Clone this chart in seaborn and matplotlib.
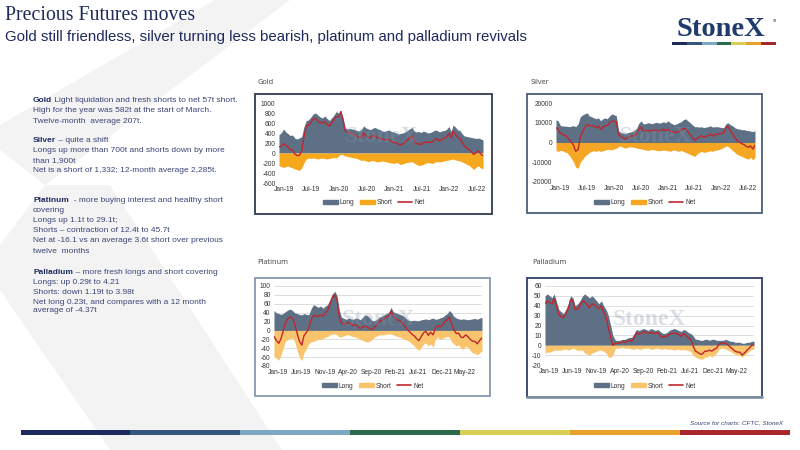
import pandas as pd
import seaborn as sns
import matplotlib.pyplot as plt
import matplotlib.transforms as mtransforms
from matplotlib.patches import Rectangle, Polygon, Patch
from matplotlib.lines import Line2D

# semi-monthly positions, Jan-19 .. mid Sep-22
dates = pd.date_range('2019-01-01', '2022-09-15', freq='SMS')

gold_long = [370, 400, 480, 420, 390, 350, 360, 300, 280, 300, 330, 520, 650, 660, 720, 780, 800, 760, 720, 700, 740, 690, 650, 700,
             760, 830, 790, 850, 700, 500, 480, 490, 480, 470, 450, 440, 470, 540, 500, 480, 470, 500, 510, 480, 470, 440, 430, 450,
             460, 430, 420, 400, 380, 390, 400, 420, 450, 480, 510, 440, 420, 430, 410, 440, 420, 400, 410, 430, 460, 450, 420, 440,
             450, 470, 530, 430, 560, 520, 460, 450, 380, 340, 330, 320, 310, 300, 290, 300, 280, 260]
gold_short = [-250, -270, -290, -270, -260, -280, -300, -320, -330, -350, -300, -200, -120, -100, -110, -100, -110, -120, -110, -100, -110, -120, -110, -100,
              -90, -100, -60, -20, -40, -60, -70, -80, -90, -100, -110, -130, -150, -140, -160, -170, -160, -150, -170, -180, -170, -160, -170, -180,
              -190, -200, -210, -190, -200, -230, -220, -200, -190, -180, -170, -200, -230, -250, -240, -230, -200, -190, -200, -210, -180, -170, -180, -170,
              -160, -150, -140, -130, -120, -140, -150, -160, -180, -200, -230, -250, -290, -330, -280, -260, -300, -317]

silver_long = [11500, 11000, 8500, 8400, 8300, 8200, 8000, 8300, 8500, 8000, 9500, 13000, 14000, 14500, 15000, 13500, 13000, 12500, 12000, 12500, 11000, 12000, 12500, 12000,
               13500, 14500, 14000, 13500, 6000, 5000, 4800, 4500, 5000, 5200, 5500, 6000, 7000, 9500, 11000, 9500, 9500, 10000, 9800, 9500, 10000, 10200, 9800, 10000,
               10500, 10000, 11000, 10000, 9500, 9000, 9500, 10000, 10500, 11500, 12000, 11000, 10000, 9000, 8000, 8000, 7800, 8000, 7500, 7800, 8000, 8500, 7800, 8000,
               8000, 7800, 7600, 7500, 9500, 10000, 9000, 8500, 7500, 7000, 6800, 6500, 6500, 6200, 6000, 5800, 5500, 6000]
silver_short = [-4000, -4500, -4000, -4200, -4800, -5000, -6500, -8000, -10000, -12500, -13000, -10000, -8500, -7000, -6000, -5000, -4500, -4200, -4500, -4000, -4500, -4200, -3800, -3500,
                -3500, -3800, -3200, -3000, -2000, -1800, -2500, -2800, -2500, -2200, -2200, -2500, -2800, -3000, -3200, -3500, -3800, -4000, -3800, -3500, -3800, -4000, -4200, -4000,
                -3800, -4000, -4200, -4500, -4000, -3800, -4200, -4500, -4000, -4500, -5000, -5500, -6000, -6500, -7000, -6000, -5000, -4500, -5000, -4800, -4500, -4200, -4500, -4000,
                -3800, -3500, -3000, -2500, -1800, -2000, -3000, -4000, -5000, -6000, -6500, -7000, -7500, -8000, -8500, -7500, -8800, -7332]

plat_long = [45, 40, 38, 36, 38, 42, 46, 48, 45, 40, 38, 36, 35, 38, 36, 35, 50, 58, 55, 52, 55, 50, 55, 58,
             70, 82, 88, 78, 45, 30, 27, 25, 28, 26, 25, 28, 27, 24, 30, 35, 33, 28, 22, 22, 25, 30, 32, 35,
             38, 40, 52, 42, 40, 38, 36, 34, 30, 25, 22, 22, 23, 22, 22, 24, 25, 26, 24, 26, 28, 25, 26, 28,
             30, 34, 38, 45, 40, 32, 28, 26, 25, 26, 25, 24, 25, 26, 27, 25, 28, 29.1]
plat_short = [-58, -62, -67, -55, -40, -25, -20, -18, -17, -25, -45, -60, -68, -50, -40, -30, -25, -25, -22, -20, -20, -18, -15, -14,
              -10, -8, -8, -10, -15, -14, -12, -10, -10, -12, -14, -15, -18, -20, -22, -25, -26, -24, -20, -15, -12, -10, -10, -10,
              -8, -8, -8, -10, -12, -14, -15, -18, -20, -22, -25, -30, -35, -40, -45, -38, -30, -28, -35, -30, -38, -20, -15, -20,
              -18, -15, -14, -15, -25, -30, -35, -32, -40, -42, -35, -38, -45, -50, -52, -55, -50, -45.7]

pall_long = [50, 52, 50, 48, 52, 45, 36, 34, 32, 36, 42, 50, 48, 40, 42, 45, 50, 52, 50, 48, 50, 48, 45, 42,
             45, 40, 36, 30, 20, 10, 5, 5, 5, 6, 6, 7, 8, 8, 12, 16, 15, 16, 17, 16, 15, 17, 16, 15,
             16, 14, 12, 12, 13, 15, 16, 17, 16, 15, 14, 16, 15, 13, 12, 10, 6, 6, 5, 5, 6, 6, 5, 6,
             6, 5, 5, 5, 5, 6, 5, 4, 4, 3, 3, 3, 2, 2, 3, 3, 4, 4.21]
pall_short = [-8, -7, -7, -6, -5, -5, -5, -5, -4, -4, -5, -4, -3, -4, -5, -5, -5, -8, -9, -10, -8, -7, -6, -5,
              -5, -6, -8, -12, -12, -10, -3, -3, -3, -2, -3, -3, -3, -4, -4, -3, -4, -4, -3, -3, -3, -4, -4, -3,
              -3, -4, -4, -3, -4, -4, -4, -5, -4, -4, -5, -4, -5, -5, -6, -10, -12, -13, -14, -14, -12, -12, -10, -12,
              -10, -8, -4, -3, -3, -4, -5, -6, -8, -9, -10, -10, -12, -10, -8, -6, -4, -3.98]

six_month_ticks = ['2019-01-01', '2019-07-01', '2020-01-01', '2020-07-01', '2021-01-01', '2021-07-01', '2022-01-01', '2022-07-01']
six_month_labels = ['Jan-19', 'Jul-19', 'Jan-20', 'Jul-20', 'Jan-21', 'Jul-21', 'Jan-22', 'Jul-22']
five_month_ticks = ['2019-01-01', '2019-06-01', '2019-11-01', '2020-04-01', '2020-09-01', '2021-02-01', '2021-07-01', '2021-12-01', '2022-05-01']
five_month_labels = ['Jan-19', 'Jun-19', 'Nov-19', 'Apr-20', 'Sep-20', 'Feb-21', 'Jul-21', 'Dec-21', 'May-22']

NAVY = '#1f2a5c'
TEXT = '#3b4577'
LONG_C = '#5d7086'
NET_C = '#c0272d'

sns.set_theme(style='white')
plt.rcParams['font.family'] = ['Liberation Sans', 'DejaVu Sans']
plt.rcParams['axes.unicode_minus'] = False

fig = plt.figure(figsize=(8, 4.5), dpi=100)


def fx(x):
    return x / 800


def fy(y):
    return 1 - y / 450


# faint background chevron
bg = fig.add_axes([0, 0, 1, 1], zorder=-10)
bg.set_xlim(0, 800)
bg.set_ylim(450, 0)
bg.axis('off')
bg.add_patch(Polygon([(215, 0), (290, 0), (45, 185), (0, 150), (0, 125)], closed=True, color='#f3f3f3', lw=0))
bg.add_patch(Polygon([(45, 185), (110, 185), (282, 450), (110, 450), (0, 290), (0, 245)], closed=True, color='#f3f3f3', lw=0))

# header
fig.text(fx(5), fy(15), 'Precious Futures moves', family='Liberation Serif', fontsize=14.3, color=NAVY, va='center')
fig.text(fx(5), fy(37), 'Gold still friendless, silver turning less bearish, platinum and palladium revivals',
         fontsize=10.8, color=NAVY, va='center')
fig.text(fx(721), fy(29), 'StoneX', family='Liberation Serif', fontsize=20.5, weight='bold', color='#1f3a6b',
         ha='center', va='center')
fig.text(fx(773), fy(21), 'TM', fontsize=2, color='#1f3a6b', va='center')

bar_cols = ['#1f2a5c', '#35577f', '#7ea7c4', '#2b6a4a', '#d9cf55', '#e9a22e', '#a8282d']
for i, c in enumerate(bar_cols):
    w = 104 / 7
    fig.patches.append(Rectangle((fx(672 + i * w), fy(45)), w / 800, 3 / 450, transform=fig.transFigure,
                                 color=c, lw=0, zorder=2))
    w2 = (790 - 20.5) / 7
    fig.patches.append(Rectangle((fx(20.5 + i * w2), fy(435)), w2 / 800, 5 / 450, transform=fig.transFigure,
                                 color=c, lw=0, zorder=2))

fig.text(fx(783), fy(423), 'Source for charts: CFTC, StoneX', fontsize=4.6, style='italic', color=TEXT,
         ha='right', va='center')

# commentary on the left
renderer = fig.canvas.get_renderer()
notes = [
    (101, 'Gold', ' Light liquidation and fresh shorts to net 57t short.'),
    (111, '', 'High for the year was 582t at the start of March.'),
    (121, '', 'Twelve-month  average 207t.'),
    (141, 'Silver', ' \u2013 quite a shift'),
    (151, '', 'Longs up more than 700t and shorts down by more'),
    (161, '', 'than 1,900t'),
    (171, '', 'Net is a short of 1,332; 12-month average 2,285t.'),
    (201, 'Platinum', '  - more buying interest and healthy short'),
    (211, '', 'covering'),
    (221, '', 'Longs up 1.1t to 29.1t;'),
    (231, '', 'Shorts \u2013 contraction of 12.4t to 45.7t'),
    (241, '', 'Net at -16.1 vs an average 3.6t short over previous'),
    (251, '', 'twelve  months'),
    (272, 'Palladium', ' \u2013 more fresh longs and short covering'),
    (282, '', 'Longs: up 0.29t to 4.21'),
    (292, '', 'Shorts: down 1.19t to 3.98t'),
    (302, '', 'Net long 0.23t, and compares with a 12 month'),
    (311, '', 'average of -4.37t'),
]
for y, bold, rest in notes:
    x = 33
    if bold:
        t = fig.text(fx(x), fy(y), bold, fontsize=6.0, weight='bold', color=NAVY, va='center')
        x += t.get_window_extent(renderer).width
    fig.text(fx(x), fy(y), rest, fontsize=6.0, color=TEXT, va='center')

charts = [
    dict(name='Gold', long=gold_long, short=gold_short, short_c='#f5a81c', box=(255, 94, 492, 214),
         plot=(279, 103, 483, 183), ylim=(-600, 1000), step=200, ticks=six_month_ticks, labels=six_month_labels,
         grid=False, edge='#2f3d4f', bottom=None, title=(258, 82), legend=(374, 203), shift=5),
    dict(name='Silver', long=silver_long, short=silver_short, short_c='#f5a623', box=(527, 94, 762, 213),
         plot=(556, 103, 755, 182), ylim=(-20000, 20000), step=10000, ticks=six_month_ticks, labels=six_month_labels,
         grid=False, edge='#4a5f7a', bottom=None, title=(531, 82), legend=(645, 203), shift=4),
    dict(name='Platinum', long=plat_long, short=plat_short, short_c='#f9c46b', box=(255, 278, 490, 396),
         plot=(274, 286, 482, 366), ylim=(-80, 100), step=20, ticks=five_month_ticks, labels=five_month_labels,
         grid=True, edge='#8399b0', bottom=None, title=(257, 262), legend=(373, 386), shift=4),
    dict(name='Palladium', long=pall_long, short=pall_short, short_c='#f9c46b', box=(527, 278, 762, 397),
         plot=(545, 286, 754, 365), ylim=(-20, 60), step=10, ticks=five_month_ticks, labels=five_month_labels,
         grid=True, edge='#2f4063', bottom='#8090a6', title=(532, 262), legend=(645, 386), shift=4),
]

for ch in charts:
    df = pd.DataFrame({'date': dates, 'Long': ch['long'], 'Short': ch['short']})
    df['Net'] = df['Long'] + df['Short']

    bx0, by0, bx1, by1 = ch['box']
    fig.patches.append(Rectangle((fx(bx0), fy(by1)), (bx1 - bx0) / 800, (by1 - by0) / 450,
                                 transform=fig.transFigure, facecolor='white', edgecolor=ch['edge'],
                                 lw=1.3, zorder=-1))
    if ch['bottom']:
        fig.lines.append(Line2D([fx(bx0), fx(bx1)], [fy(by1), fy(by1)], transform=fig.transFigure,
                                color=ch['bottom'], lw=2.0, zorder=-0.5))
    fig.text(fx(ch['title'][0]), fy(ch['title'][1]), ch['name'], family='Open Sans', fontsize=5.3,
             color='#404040', va='center')

    px0, py0, px1, py1 = ch['plot']
    ax = fig.add_axes([fx(px0), fy(py1), (px1 - px0) / 800, (py1 - py0) / 450])
    ax.set_facecolor('none')
    ax.fill_between(df['date'], 0, df['Long'], color=LONG_C, lw=0, zorder=2)
    ax.fill_between(df['date'], 0, df['Short'], color=ch['short_c'], lw=0, zorder=2)
    sns.lineplot(data=df, x='date', y='Net', ax=ax, color=NET_C, lw=1.0, zorder=3)

    ax.text(0.5, 0.58, 'StoneX', transform=ax.transAxes, family='Liberation Serif', fontsize=17,
            weight='bold', color='#8898aa', alpha=0.3, ha='center', va='center', zorder=4)

    lo, hi = ch['ylim']
    ax.set_ylim(lo, hi)
    ax.set_yticks(range(lo, hi + 1, ch['step']))
    ax.set_xlim(dates[0], dates[-1])
    ax.set_xticks(pd.to_datetime(ch['ticks']))
    ax.set_xticklabels(ch['labels'])
    ax.set_xlabel('')
    ax.set_ylabel('')
    ax.tick_params(length=0, labelsize=4.8, colors='#333333')
    ax.tick_params(axis='y', pad=2.5)
    ax.tick_params(axis='x', pad=2.5)
    offset = mtransforms.ScaledTranslation(ch['shift'] / 100, 0, fig.dpi_scale_trans)
    for lab in ax.get_xticklabels():
        lab.set_transform(lab.get_transform() + offset)
    for s in ax.spines.values():
        s.set_visible(False)
    if ch['grid']:
        ax.grid(axis='y', color='#d9d9d9', lw=0.6, zorder=0)
        ax.set_axisbelow(True)
    else:
        ax.grid(False)

    handles = [Patch(color=LONG_C), Patch(color=ch['short_c']), Line2D([], [], color=NET_C, lw=1.2)]
    fig.legend(handles, ['Long', 'Short', 'Net'], loc='center',
               bbox_to_anchor=(fx(ch['legend'][0]), fy(ch['legend'][1])), ncol=3, frameon=False,
               fontsize=4.8, handlelength=2.2, handleheight=0.5, columnspacing=0.8, handletextpad=0.3,
               labelcolor='#333333')

fig.savefig('out.png', dpi=100)
